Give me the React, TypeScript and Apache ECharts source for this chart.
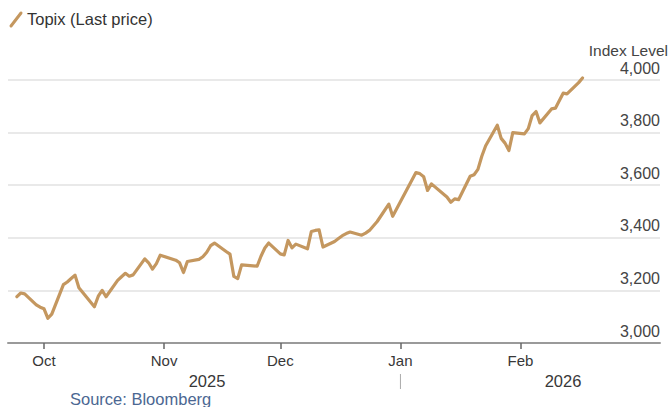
import React, { useEffect, useRef } from "react";
import * as echarts from "echarts";

const dates: string[] = [
  "2025-09-24", "2025-09-25", "2025-09-26", "2025-09-29", "2025-09-30",
  "2025-10-01", "2025-10-02", "2025-10-03", "2025-10-06", "2025-10-07", "2025-10-08", "2025-10-09", "2025-10-10",
  "2025-10-14", "2025-10-15", "2025-10-16", "2025-10-17", "2025-10-20", "2025-10-21", "2025-10-22", "2025-10-23", "2025-10-24",
  "2025-10-27", "2025-10-28", "2025-10-29", "2025-10-30", "2025-10-31",
  "2025-11-04", "2025-11-05", "2025-11-06", "2025-11-07", "2025-11-10", "2025-11-11", "2025-11-12", "2025-11-13", "2025-11-14",
  "2025-11-17", "2025-11-18", "2025-11-19", "2025-11-20", "2025-11-21", "2025-11-25", "2025-11-26", "2025-11-27", "2025-11-28",
  "2025-12-01", "2025-12-02", "2025-12-03", "2025-12-04", "2025-12-05", "2025-12-08", "2025-12-09", "2025-12-10", "2025-12-11", "2025-12-12",
  "2025-12-15", "2025-12-16", "2025-12-17", "2025-12-18", "2025-12-19", "2025-12-22", "2025-12-23", "2025-12-24", "2025-12-25", "2025-12-26",
  "2025-12-29", "2025-12-30",
  "2026-01-05", "2026-01-06", "2026-01-07", "2026-01-08", "2026-01-09", "2026-01-13", "2026-01-14", "2026-01-15", "2026-01-16",
  "2026-01-19", "2026-01-20", "2026-01-21", "2026-01-22", "2026-01-23", "2026-01-26", "2026-01-27", "2026-01-28", "2026-01-29", "2026-01-30",
  "2026-02-02", "2026-02-03", "2026-02-04", "2026-02-05", "2026-02-06", "2026-02-09", "2026-02-10", "2026-02-12", "2026-02-13", "2026-02-16", "2026-02-17",
];

const topix: number[] = [
  3176, 3190, 3187, 3145, 3136,
  3130, 3094, 3110, 3222, 3232, 3245, 3258, 3210,
  3138, 3178, 3200, 3176, 3238, 3252, 3265, 3254, 3259,
  3320, 3305, 3281, 3302, 3334,
  3315, 3305, 3268, 3310, 3318, 3328, 3345, 3370, 3380,
  3348, 3338, 3253, 3245, 3297, 3292, 3330, 3361, 3380,
  3339, 3335, 3390, 3362, 3376, 3358, 3424, 3428, 3430, 3365,
  3386, 3397, 3408, 3416, 3422, 3410, 3418, 3428, 3445, 3462,
  3528, 3482,
  3648, 3644, 3632, 3580, 3605, 3555, 3535, 3548, 3545,
  3634, 3640, 3660, 3710, 3750, 3828, 3778, 3760, 3732, 3800,
  3795, 3815, 3865, 3880, 3837, 3890, 3893, 3950, 3947, 3990, 4008,
];

const monthTicks: string[] = ["2025-10-01", "2025-11-01", "2025-12-01", "2026-01-01", "2026-02-01"];
const monthNames: string[] = ["Jan", "Feb", "Mar", "Apr", "May", "Jun", "Jul", "Aug", "Sep", "Oct", "Nov", "Dec"];
const yearLabels: string[] = ["2025", "2026"];
const yTicks = { min: 3000, max: 4000, interval: 200 };

const seriesName = "Topix (Last price)";
const LINE_COLOR = "#c4975f";
const FONT = "'Liberation Sans', Arial, Helvetica, sans-serif";

const ts = (s: string) => {
  const [y, m, d] = s.split("-").map(Number);
  return Date.UTC(y, m - 1, d);
};

export default function App() {
  const ref = useRef<HTMLDivElement>(null);

  useEffect(() => {
    if (!ref.current) return;
    const chart = echarts.init(ref.current, undefined, { renderer: "svg" });
    const DAY = 86400000;
    const oct1 = ts("2025-10-01");
    const tickVals = monthTicks.map(ts);

    chart.setOption({
      animation: false,
      backgroundColor: "#ffffff",
      textStyle: { fontFamily: FONT },
      grid: { left: 8, right: 10, top: 80, bottom: 64, containLabel: false },
      xAxis: {
        type: "value",
        min: oct1 - 9.3 * DAY,
        max: oct1 + 159 * DAY,
        axisLine: { show: true, lineStyle: { color: "#9a9a9a", width: 2 } },
        axisTick: { show: true, length: 6, lineStyle: { color: "#666", width: 1.5 }, customValues: tickVals },
        axisLabel: {
          customValues: tickVals,
          color: "#383838",
          fontSize: 15,
          fontFamily: FONT,
          margin: 10,
          formatter: (v: number) => monthNames[new Date(v).getUTCMonth()],
        },
        splitLine: { show: false },
      },
      yAxis: {
        type: "value",
        position: "right",
        min: yTicks.min,
        max: yTicks.max,
        interval: yTicks.interval,
        axisLine: { show: false },
        axisTick: { show: false },
        axisLabel: {
          inside: true,
          margin: 0,
          color: "#444",
          fontSize: 16,
          fontFamily: FONT,
          verticalAlign: "bottom",
          padding: [0, 0, 4, 0],
          formatter: (v: number) => v.toLocaleString("en-US"),
        },
        splitLine: { show: true, lineStyle: { color: "#e2e2e2", width: 1.5 } },
      },
      series: [
        {
          name: seriesName,
          type: "line",
          data: dates.map((d, i) => [ts(d), topix[i]]),
          showSymbol: false,
          clip: false,
          lineStyle: { color: LINE_COLOR, width: 3.2, join: "round", cap: "round" },
          itemStyle: { color: LINE_COLOR },
          z: 5,
        },
      ],
    });

    const janX = chart.convertToPixel({ xAxisIndex: 0 }, ts("2026-01-01")) as number;

    chart.setOption({
      graphic: [
        {
          type: "line",
          shape: { x1: 11, y1: 26, x2: 21, y2: 13 },
          style: { stroke: LINE_COLOR, lineWidth: 3, lineCap: "round" },
        },
        {
          type: "text",
          x: 27,
          y: 19,
          style: { text: seriesName, fill: "#333", font: `16.5px ${FONT}`, verticalAlign: "middle" },
        },
        {
          type: "text",
          x: 668,
          y: 50,
          style: { text: "Index Level", fill: "#444", font: `15.5px ${FONT}`, align: "right", verticalAlign: "middle" },
        },
        {
          type: "text",
          x: 207,
          y: 381,
          style: { text: yearLabels[0], fill: "#383838", font: `16.5px ${FONT}`, align: "center", verticalAlign: "middle" },
        },
        {
          type: "text",
          x: 563,
          y: 381,
          style: { text: yearLabels[1], fill: "#383838", font: `16.5px ${FONT}`, align: "center", verticalAlign: "middle" },
        },
        {
          type: "line",
          shape: { x1: janX, y1: 374, x2: janX, y2: 389 },
          style: { stroke: "#aaa", lineWidth: 1 },
        },
        {
          type: "text",
          x: 70,
          y: 399,
          style: { text: "Source: Bloomberg", fill: "#4b6792", font: `16.5px ${FONT}`, verticalAlign: "middle" },
        },
      ],
    });

    return () => chart.dispose();
  }, []);

  return (
    <div
      ref={ref}
      style={{ position: "absolute", left: 0, top: 0, width: 670, height: 407, background: "#fff" }}
    />
  );
}
